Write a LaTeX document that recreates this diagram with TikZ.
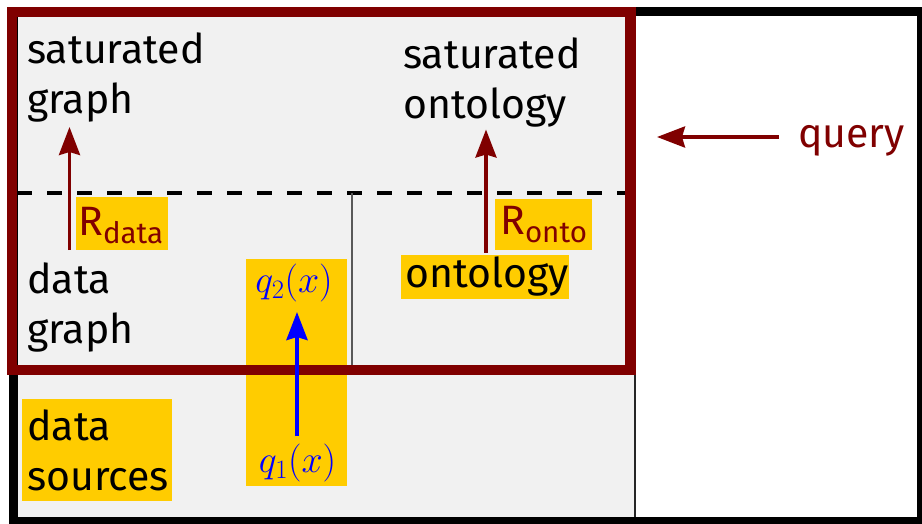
\documentclass[tikz,border=0pt]{standalone}
\usepackage{fix-cm}
\usepackage[no-math]{fontspec}
\newfontfamily\fira{Fira Sans}
\usetikzlibrary{arrows.meta}

\definecolor{dred}{HTML}{800000}
\definecolor{hl}{HTML}{FFCC00}
\definecolor{panel}{HTML}{F1F1F1}
\definecolor{qblue}{HTML}{0000FF}

\tikzset{
  lbl/.style={font=\fira\fontsize{41}{49.5}\selectfont, inner sep=0pt, align=left, anchor=base west},
  mathlbl/.style={font=\fontsize{38}{40}\selectfont, text=qblue, inner sep=0pt, anchor=base},
  hlbox/.style={fill=hl, draw=none, inner sep=0pt, anchor=north west},
  redarrow/.style={draw=dred, line width=3.5pt, -{Stealth[length=28pt, width=21pt, inset=3pt]}},
  bluearrow/.style={draw=qblue, line width=4pt, -{Stealth[length=28pt, width=21pt, inset=3pt]}},
}
\newcommand{\relname}[1]{R\raisebox{-8.5pt}{\fontsize{29.5}{31}\selectfont #1}}

\begin{document}
\begin{tikzpicture}[x=1pt, y=-1pt]
  \useasboundingbox (0,0) rectangle (922,523);
  \clip (0,0) rectangle (922,523);

  % storage panel and outer frame
  \fill[white] (0,0) rectangle (922,523);
  \draw[fill=panel, draw=black!85, line width=2pt] (13,11) rectangle (634.5,521);
  \draw[black, line width=9pt] (13,11) rectangle (921.5,521.5);

  % saturation level and split between data and ontology
  \draw[black, line width=3.8pt, dash pattern=on 15pt off 15pt] (17,193) -- (626,193);
  \draw[black!65, line width=1.5pt] (352,193) -- (352,366);

  % highlighted boxes
  \node[hlbox, minimum width=101pt, minimum height=227pt] (qbox) at (246,259) {};
  \node[hlbox, minimum width=150pt, minimum height=102pt] (srcbox) at (22,399) {};
  \node[hlbox, minimum width=168pt, minimum height=44pt] (ontobox) at (401,255) {};
  \node[hlbox, minimum width=92pt, minimum height=53pt] (rdatabox) at (76,197) {};
  \node[hlbox, minimum width=97pt, minimum height=51pt] (rontobox) at (495,199) {};

  % query-answering frame
  \draw[dred, line width=10.5pt] (12,12) rectangle (630.5,370);

  % labels (multi-line labels are placed by the baseline of their last line)
  \node[lbl] (satgraph) at (27,113) {saturated\\graph};
  \node[lbl] (satonto) at (403,118) {saturated\\ontology};
  \node[lbl] (datagraph) at (27,343) {data\\graph};
  \node[lbl] (datasrc) at (27,490) {data\\sources};
  \node[lbl] (onto) at (405,287) {ontology};
  \node[lbl, text=dred] (rdata) at (78,235) {\relname{data}};
  \node[lbl, text=dred] (ronto) at (500,234) {\relname{onto}};
  \node[lbl, text=dred] (query) at (798,147) {query};
  \node[mathlbl] (qtwo) at (294,292.75) {$q_2(x)$};
  \node[mathlbl] (qone) at (297.5,472.75) {$q_1(x)$};

  % connector end points
  \coordinate (rdtail) at (69.5,250);
  \coordinate (rdtip) at (69.5,127);
  \coordinate (rotail) at (486,252.5);
  \coordinate (rotip) at (486,129.5);
  \coordinate (qtail) at (297,436);
  \coordinate (qtip) at (297,312);
  \coordinate (querytail) at (779,137);
  \coordinate (querytip) at (657,137);

  % connectors
  \draw[redarrow] (rdtail) -- (rdtip);
  \draw[redarrow] (rotail) -- (rotip);
  \draw[bluearrow] (qtail) -- (qtip);
  \draw[redarrow] (querytail) -- (querytip);
\end{tikzpicture}
\end{document}
